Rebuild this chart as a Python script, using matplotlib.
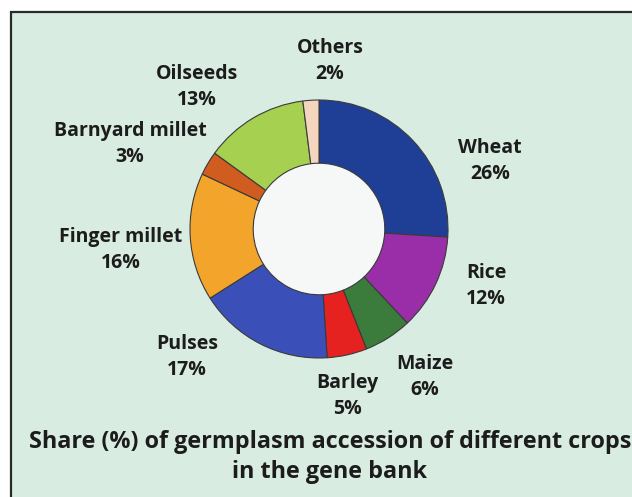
import matplotlib
matplotlib.use("Agg")
import matplotlib.pyplot as plt
from matplotlib.patches import Rectangle, Circle

crops = ["Wheat", "Rice", "Maize", "Barley", "Pulses", "Finger millet",
         "Barnyard millet", "Oilseeds", "Others"]
shares = [26, 12, 6, 5, 17, 16, 3, 13, 2]
colors = ["#1f3f97", "#9a2ea8", "#3b7b3b", "#e5221f", "#3a50b8", "#f3a42b",
          "#d05c1f", "#a6d04f", "#f3d6bd"]
title = "Share (%) of germplasm accession of different crops\nin the gene bank"

# label layout (pixel coords, y from top)
label_pos = {
    "Wheat": (490, 161), "Rice": (486, 286), "Maize": (425, 377),
    "Barley": (347, 396), "Pulses": (187, 357), "Finger millet": (121, 250),
    "Barnyard millet": (130, 144), "Oilseeds": (197, 87), "Others": (330, 61),
}

W, H = 632, 497
fig = plt.figure(figsize=(W / 100, H / 100), dpi=100)
ax = fig.add_axes([0, 0, 1, 1])
fig.patch.set_facecolor("white")

cx, cy = 319, H - 229
R = 129
ax.pie(shares, colors=colors, startangle=90, counterclock=False,
       center=(cx, cy), radius=R,
       wedgeprops=dict(width=R * 0.49, edgecolor="#3a3a3a", linewidth=0.8),
       frame=True)
ax.set_xlim(0, W)
ax.set_ylim(0, H)
ax.set_aspect("auto")
ax.axis("off")

# framed mint background
ax.add_patch(Rectangle((11, -5), W + 10, H - 12 + 5, facecolor="#d8ece1",
                       edgecolor="#2b2b2b", linewidth=1.6, zorder=0))
ax.add_patch(Circle((cx, cy), R * 0.51, facecolor="#f6f8f7", edgecolor="none", zorder=0.5))

for name, val in zip(crops, shares):
    x, y = label_pos[name]
    ax.text(x, H - y, f"{name}\n{val}%", ha="center", va="center",
            fontsize=14, fontweight="bold", family="Open Sans", color="#1c1c1c",
            linespacing=1.45)

ax.text(330, H - 457, title, ha="center", va="center", fontsize=16.8,
        fontweight="bold", family="Open Sans", color="#1c1c1c", linespacing=1.3)

fig.savefig("out.png", dpi=100)
